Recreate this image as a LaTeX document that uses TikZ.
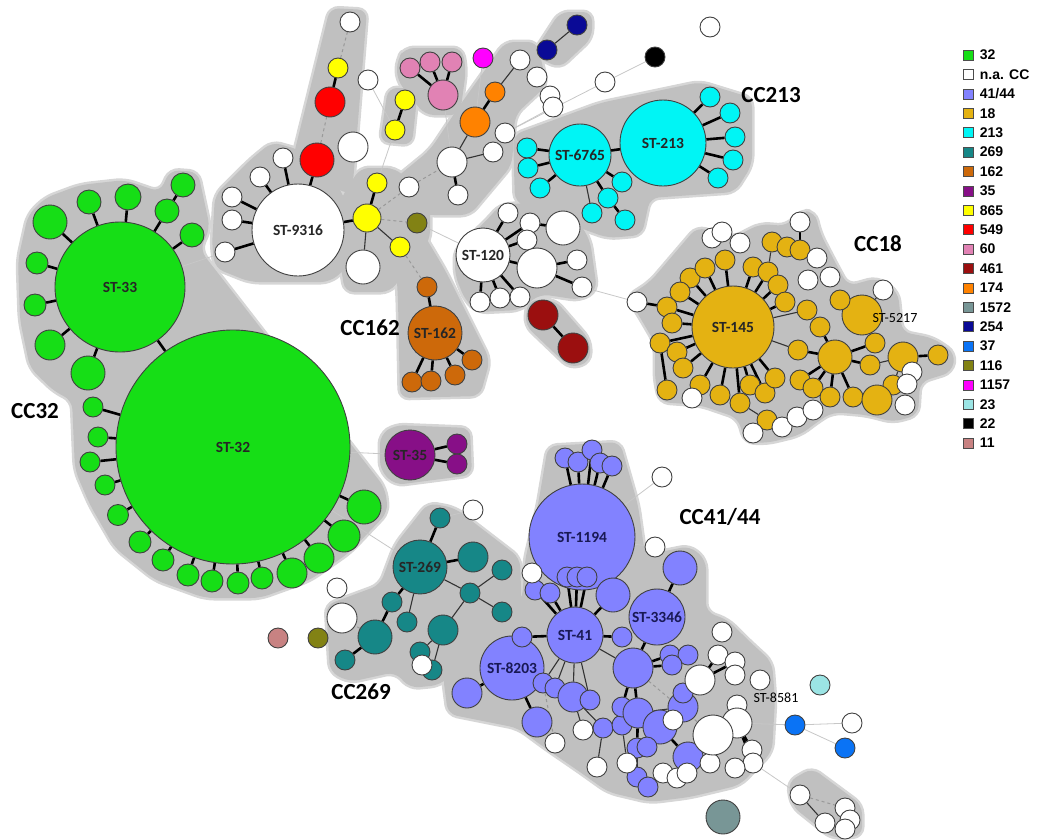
\documentclass[tikz,border=0pt]{standalone}
\usepackage{fontspec}
\setmainfont{Carlito}
\newfontfamily\legfont{Liberation Sans}
\pgfdeclarelayer{hulllayer}
\pgfdeclarelayer{edgelayer}
\pgfsetlayers{hulllayer,edgelayer,main}

\definecolor{c32}{RGB}{22,222,22}
\definecolor{cna}{RGB}{255,255,255}
\definecolor{c41}{RGB}{130,130,255}
\definecolor{c18}{RGB}{228,178,18}
\definecolor{c213}{RGB}{0,245,245}
\definecolor{c269}{RGB}{22,135,135}
\definecolor{c162}{RGB}{205,105,10}
\definecolor{c35}{RGB}{135,15,135}
\definecolor{c865}{RGB}{255,255,0}
\definecolor{c549}{RGB}{255,0,0}
\definecolor{c60}{RGB}{225,130,180}
\definecolor{c461}{RGB}{155,15,15}
\definecolor{c174}{RGB}{255,130,0}
\definecolor{c1572}{RGB}{120,150,150}
\definecolor{c254}{RGB}{10,10,150}
\definecolor{c37}{RGB}{10,115,245}
\definecolor{c116}{RGB}{130,130,20}
\definecolor{c1157}{RGB}{255,0,255}
\definecolor{c23}{RGB}{155,228,228}
\definecolor{c22}{RGB}{0,0,0}
\definecolor{c11}{RGB}{200,130,130}
\definecolor{hullgray}{RGB}{192,192,192}
\definecolor{hullrim}{RGB}{214,214,214}

% grey shading behind the complexes, drawn twice (rim, then fill)
\newcommand\hullshapes{%
  % CC32
  \path[hullpart] (28,215) -- (45,198) -- (80,185) -- (125,180) -- (160,192) -- (170,170) -- (198,172)
    -- (210,228) -- (200,250) -- (385,488) -- (388,512) -- (350,552) -- (310,580) -- (260,598) -- (205,598)
    -- (155,580) -- (115,548) -- (90,505) -- (75,470) -- (72,400) -- (55,392) -- (30,368) -- (20,320) -- (18,260) -- cycle;
  % ST-9316 and branches
  \path[hullpart] (212,245) -- (215,195) -- (250,160) -- (272,142) -- (300,150) -- (335,180) -- (350,210)
    -- (350,265) -- (330,282) -- (250,282) -- (215,268) -- cycle;
  \path[hullpart] (290,170) -- (330,8) -- (367,10) -- (352,195) -- cycle;
  \path[hullpart] (340,200) -- (360,168) -- (395,168) -- (430,200) -- (430,240) -- (390,292) -- (345,292) -- (338,250) -- cycle;
  \path[hullpart] (375,195) -- (430,150) -- (460,105) -- (505,42) -- (537,42) -- (547,85) -- (515,115)
    -- (512,165) -- (470,215) -- (425,215) -- cycle;
  \path[hullpart] (395,245) -- (420,228) -- (445,270) -- (470,320) -- (490,360) -- (480,396) -- (400,398) -- (398,300) -- cycle;
  \path[hullpart] (388,88) -- (418,88) -- (412,145) -- (380,142) -- cycle;
  \path[hullpart] (397,60) -- (405,48) -- (462,48) -- (466,70) -- (460,115) -- (425,115) -- (397,80) -- cycle;
  \path[hullpart] (532,55) -- (560,12) -- (592,12) -- (592,38) -- (560,68) -- cycle;
  % CC213
  \path[hullpart] (513,135) -- (600,103) -- (700,82) -- (752,98) -- (752,165) -- (735,192) -- (650,198)
    -- (642,235) -- (608,238) -- (580,228) -- (515,202) -- cycle;
  % ST-120
  \path[hullpart] (455,250) -- (487,220) -- (500,205) -- (540,202) -- (570,208) -- (590,240) -- (597,290)
    -- (580,300) -- (540,294) -- (520,310) -- (478,312) -- (465,300) -- (455,275) -- cycle;
  \path[hullpart] (528,300) -- (555,300) -- (590,340) -- (590,362) -- (570,368) -- (525,325) -- cycle;
  % ST-35
  \path[hullpart] (380,435) -- (395,425) -- (470,428) -- (472,475) -- (395,485) -- (380,470) -- cycle;
  % CC269
  \path[hullpart] (395,545) -- (428,503) -- (455,508) -- (520,558) -- (522,620) -- (492,628) -- (462,665)
    -- (440,685) -- (410,688) -- (395,672) -- (350,682) -- (330,672) -- (326,605) -- (380,585) -- cycle;
  % CC41/44 and ST-8581
  \path[hullpart] (538,505) -- (548,446) -- (620,442) -- (638,505) -- (645,555) -- (690,546) -- (706,560)
    -- (706,612) -- (728,620) -- (748,640) -- (772,662) -- (775,700) -- (772,752) -- (740,785) -- (690,797)
    -- (650,802) -- (608,792) -- (580,772) -- (545,748) -- (518,728) -- (448,714) -- (443,676) -- (480,640)
    -- (522,600) -- (525,560) -- cycle;
  \path[hullpart] (788,782) -- (812,768) -- (862,805) -- (862,836) -- (832,838) -- (792,806) -- cycle;
  % CC18
  \path[hullpart] (627,297) -- (650,282) -- (697,227) -- (733,238) -- (760,224) -- (787,226) -- (800,211)
    -- (815,212) -- (820,233) -- (835,262) -- (848,286) -- (877,278) -- (898,292) -- (902,332) -- (933,338)
    -- (955,353) -- (952,372) -- (920,382) -- (918,415) -- (893,422) -- (867,415) -- (833,412) -- (820,420)
    -- (800,435) -- (767,443) -- (745,442) -- (738,418) -- (700,405) -- (660,402) -- (655,380) -- (655,343)
    -- (638,314) -- cycle;
}

\begin{document}
\begin{tikzpicture}[x=1pt,y=-1pt]
 \tikzset{st/.style={circle, draw=black!75, line width=0.9pt, inner sep=0pt, fill=c#1},
   sz/.style={minimum size=#1pt},
   lab/.style={font=\bfseries\fontsize{15.5}{15.5}\selectfont, text=black!85},
   lab41/.style={font=\bfseries\fontsize{15.5}{15.5}\selectfont, text={rgb,255:red,25;green,25;blue,85}},
   bond/.style={line width=2.6pt, black},
   link/.style={line width=1.1pt, black!80},
   faint/.style={line width=0.8pt, black!22},
   dashlink/.style={line width=1pt, black!40, dashed},
   cclab/.style={font=\bfseries\fontsize{23}{23}\selectfont}}
 \useasboundingbox (0,0) rectangle (1043,839);

 \begin{pgfonlayer}{hulllayer}
  \tikzset{hullpart/.style={draw=hullrim, fill=hullrim, line width=5pt, rounded corners=9pt, line join=round}}
  \hullshapes
  \tikzset{hullpart/.style={fill=hullgray, rounded corners=9pt}}
  \hullshapes
 \end{pgfonlayer}

 %% CC32
 \node[st=32, sz=234, lab] (st32) at (233,447) {ST-32};
 \node[st=32, sz=130, lab] (st33) at (120,287) {ST-33};
 \foreach \x/\y/\d [count=\i] in {50/222/34, 89/202/24, 128/197/26, 167/211/24, 192/235/24, 37/263/22,
     35/305/22, 50/345/30, 88/373/34, 183/185/24}
   \node[st=32, sz=\d] (a\i) at (\x,\y) {};
 \foreach \x/\y/\d [count=\i] in {93/407/20, 98/437/20, 90/462/20, 105/485/20, 118/515/21, 140/542/22,
     163/560/22, 188/575/22, 212/581/22, 238/583/22, 262/578/22, 292/573/30, 319/558/30, 344/536/32, 364/507/34}
   \node[st=32, sz=\d] (b\i) at (\x,\y) {};

 %% ST-9316 and neighbours
 \node[st=na, sz=92, lab] (st9316) at (298,230) {ST-9316};
 \foreach \x/\y [count=\i] in {283/158, 260/177, 232/197, 232/220, 225/252}
   \node[st=na, sz=20] (w\i) at (\x,\y) {};
 \node[st=549, sz=34] (r1) at (317,160) {};
 \node[st=549, sz=30] (r2) at (330,102) {};
 \node[st=865, sz=20] (y1) at (338,68) {};
 \node[st=na, sz=20] (w6) at (350,22) {};
 \node[st=865, sz=28] (y2) at (367,218) {};
 \node[st=865, sz=20] (y3) at (377,183) {};
 \node[st=865, sz=20] (y4) at (400,247) {};
 \node[st=na, sz=34] (w7) at (363,267) {};
 \node[st=116, sz=20] (o1) at (417,223) {};
 \node[st=na, sz=20] (w8) at (409,187) {};
 \node[st=na, sz=30] (w9) at (452,162) {};
 \node[st=na, sz=20] (w10) at (458,195) {};
 \node[st=na, sz=20] (w11) at (493,152) {};
 \node[st=174, sz=30] (or1) at (475,122) {};
 \node[st=174, sz=20] (or2) at (495,92) {};
 \node[st=na, sz=20] (w12) at (520,60) {};
 \node[st=na, sz=20] (w13) at (537,77) {};
 \node[st=na, sz=20] (w14) at (505,133) {};
 \node[st=na, sz=20] (w15) at (550,96) {};
 \node[st=na, sz=20] (w16) at (553,107) {};
 \node[st=na, sz=20] (w17) at (605,82) {};
 \node[st=22, sz=20] (k1) at (655,57) {};
 \node[st=na, sz=20] (w18) at (710,27) {};
 \node[st=254, sz=20] (nv1) at (547,50) {};
 \node[st=254, sz=20] (nv2) at (577,25) {};
 \node[st=60, sz=20] (p1) at (410,68) {};
 \node[st=60, sz=20] (p2) at (430,62) {};
 \node[st=60, sz=20] (p3) at (452,62) {};
 \node[st=60, sz=30] (p4) at (443,95) {};
 \node[st=1157, sz=20] (m1) at (483,58) {};
 \node[st=865, sz=20] (y5) at (405,100) {};
 \node[st=865, sz=20] (y6) at (395,130) {};
 \node[st=na, sz=20] (w19) at (368,80) {};
 \node[st=na, sz=30] (w20) at (353,147) {};

 %% CC162
 \node[st=162, sz=54, lab] (st162) at (435,333) {ST-162};
 \node[st=162, sz=20] (br0) at (427,287) {};
 \foreach \x/\y [count=\i] in {412/382, 431/381, 455/375, 472/360}
   \node[st=162, sz=20] (br\i) at (\x,\y) {};

 %% CC213
 \node[st=213, sz=86, lab] (st213) at (663,143) {ST-213};
 \node[st=213, sz=62, lab] (st6765) at (580,155) {ST-6765};
 \foreach \x/\y [count=\i] in {710/97, 730/113, 735/137, 733/160, 718/178}
   \node[st=213, sz=20] (c\i) at (\x,\y) {};
 \foreach \x/\y [count=\i] in {527/148, 528/168, 540/188, 622/182, 608/198, 592/213, 625/220}
   \node[st=213, sz=20] (d\i) at (\x,\y) {};

 %% ST-120
 \node[st=na, sz=54, lab] (st120) at (483,255) {ST-120};
 \foreach \x/\y/\d [count=\i] in {508/213/20, 530/223/20, 527/240/20, 563/228/34, 537/268/40, 577/260/20,
     582/287/20, 480/302/20, 500/298/20, 520/297/20}
   \node[st=na, sz=\d] (e\i) at (\x,\y) {};
 \node[st=461, sz=30] (dr1) at (543,315) {};
 \node[st=461, sz=30] (dr2) at (573,348) {};

 %% ST-35
 \node[st=35, sz=50, lab] (st35) at (410,455) {ST-35};
 \node[st=35, sz=20] (pu1) at (457,444) {};
 \node[st=35, sz=20] (pu2) at (457,464) {};

 %% CC269
 \node[st=269, sz=54, lab] (st269) at (420,567) {ST-269};
 \foreach \x/\y/\d [count=\i] in {440/518/20, 473/557/30, 470/593/20, 502/570/20, 502/612/20, 392/602/20,
     407/622/20, 443/630/30, 375/637/34, 345/660/20, 420/652/20, 432/670/20}
   \node[st=269, sz=\d] (t\i) at (\x,\y) {};
 \node[st=na, sz=20] (wt1) at (422,665) {};
 \node[st=na, sz=20] (wt2) at (337,588) {};
 \node[st=na, sz=30] (wt3) at (342,618) {};
 \node[st=na, sz=20] (wt4) at (473,510) {};
 \node[st=116, sz=20] (o2) at (318,638) {};
 \node[st=11, sz=20] (q1) at (278,638) {};

 %% CC41/44
 \node[st=41, sz=106, lab41] (st1194) at (582,537) {ST-1194};
 \foreach \x/\y [count=\i] in {565/458, 578/462, 592/450, 600/463, 612/466}
   \node[st=41, sz=20] (u\i) at (\x,\y) {};
 \node[st=41, sz=56, lab41] (st41) at (575,635) {ST-41};
 \node[st=41, sz=56, lab41] (st3346) at (657,617) {ST-3346};
 \node[st=41, sz=64, lab41] (st8203) at (512,668) {ST-8203};
 \foreach \x/\y/\d [count=\i from 6] in {567/577/20, 577/577/20, 587/577/20, 535/590/20, 550/593/20,
     613/595/34, 680/568/34, 467/693/30, 522/637/20, 622/637/20, 633/668/40, 670/655/20, 688/655/20,
     672/665/20, 543/683/20, 555/688/20, 573/697/30, 590/700/20, 537/722/30, 603/728/20, 622/725/20,
     622/707/20, 638/713/30, 660/727/34, 683/707/30, 683/693/20, 637/748/20, 647/747/20, 637/777/20,
     648/787/20, 688/757/30}
   \node[st=41, sz=\d] (u\i) at (\x,\y) {};
 \foreach \x/\y [count=\i] in {583/730, 555/743, 597/767, 627/763, 663/773, 677/778, 687/773, 673/720, 710/763}
   \node[st=na, sz=20] (v\i) at (\x,\y) {};
 \node[st=na, sz=20] (wl1) at (662,477) {};
 \node[st=na, sz=20] (wl2) at (655,547) {};
 \node[st=na, sz=20] (wl3) at (532,573) {};

 %% ST-8581
 \foreach \x/\y/\d [count=\i] in {700/680/30, 722/632/20, 718/655/20, 735/662/20, 735/675/20, 760/680/20,
     737/705/20, 737/723/30, 713/735/40, 752/750/20, 753/763/20, 735/768/20}
   \node[st=na, sz=\d] (x\i) at (\x,\y) {};
 \node[font=\fontsize{14}{14}\selectfont] (lab8581) at (776,698) {ST-8581};
 \node[st=23, sz=20] (pc1) at (820,685) {};
 \node[st=37, sz=20] (bl1) at (795,725) {};
 \node[st=37, sz=20] (bl2) at (845,748) {};
 \node[st=na, sz=20] (bw1) at (852,723) {};
 \node[st=1572, sz=34] (gt1) at (723,817) {};
 \foreach \x/\y [count=\i] in {800/795, 825/823, 845/808, 850/820, 845/829}
   \node[st=na, sz=20] (z\i) at (\x,\y) {};

 %% CC18
 \node[st=18, sz=82, lab] (st145) at (733,327) {ST-145};
 \node[st=18, sz=40] (st5217) at (862,315) {};
 \node[st=18, sz=34] (hub2) at (835,357) {};
 \foreach \x/\y [count=\i] in {690/278, 680/292, 667/307, 672/323, 660/343, 677/352, 683/368, 700/385,
     720/395, 740/403, 750/385, 765/393, 775/378, 725/260, 753/267, 768/272, 778/285, 785/302, 705/268}
   \node[st=18, sz=20] (g\i) at (\x,\y) {};
 \foreach \x/\y/\d [count=\i] in {807/310/20, 820/327/20, 798/350/20, 800/380/20, 813/388/20, 830/397/20,
     853/397/20, 870/365/20, 875/343/20, 840/300/20, 903/357/30, 938/355/20, 893/385/20, 877/400/30,
     772/242/20, 787/247/20, 800/250/20, 667/390/20, 767/420/20}
   \node[st=18, sz=\d] (h\i) at (\x,\y) {};
 \foreach \x/\y [count=\i] in {800/222, 712/238, 722/232, 740/243, 817/258, 808/280, 830/277, 883/290,
     637/302, 692/398, 753/433, 782/427, 797/417, 813/410, 912/372, 907/384, 905/405}
   \node[st=na, sz=20] (wc\i) at (\x,\y) {};
 \node[font=\fontsize{14}{14}\selectfont] (lab5217) at (895,318) {ST-5217};

 %% connectors
 \begin{pgfonlayer}{edgelayer}
  \foreach \i in {1,...,9} \draw[bond] (st33) -- (a\i);
  \draw[bond] (a4) -- (a10);
  \foreach \i in {1,...,15} \draw[bond] (st32) -- (b\i);
  \draw[bond] (st33) -- (st32);
  \draw[faint] (st33) -- (w5);
  \draw[faint] (st32) -- (st35);
  \draw[faint] (st32) -- (st269);
  % ST-9316
  \foreach \i in {1,...,5} \draw[bond] (st9316) -- (w\i);
  \draw[bond] (st9316) -- (r1);
  \draw[dashlink] (r1) -- (r2);
  \draw[bond] (r2) -- (y1);
  \draw[dashlink] (y1) -- (w6);
  \draw[bond] (st9316) -- (y2);
  \draw[bond] (y2) -- (y3);
  \draw[link] (y2) -- (y4);
  \draw[link] (y2) -- (w7);
  \draw[dashlink] (y2) -- (o1);
  \draw[dashlink] (y2) -- (w8);
  \draw[dashlink] (w8) -- (w9);
  \draw[bond] (w9) -- (w10);
  \draw[link] (w9) -- (w11);
  \draw[link] (w9) -- (or1);
  \draw[bond] (or1) -- (or2);
  \draw[link] (or2) -- (w12);
  \draw[link] (nv1) -- (nv2);
  \draw[faint] (w14) -- (w16);
  \draw[faint] (w14) -- (w17);
  \draw[faint] (w17) -- (k1);
  \draw[faint] (w14) -- (d1);
  \foreach \i in {1,2,3} \draw[bond] (p4) -- (p\i);
  \draw[faint] (p4) -- (w9);
  \draw[faint] (m1) -- (or1);
  \draw[bond] (y5) -- (y6);
  \draw[faint] (y6) -- (y3);
  \draw[faint] (w19) -- (y6);
  \draw[faint] (o1) -- (st120);
  % CC162
  \draw[dashlink] (y4) -- (br0);
  \draw[bond] (st162) -- (br0);
  \foreach \i in {1,...,4} \draw[bond] (st162) -- (br\i);
  % CC213
  \draw[bond] (st6765) -- (st213);
  \foreach \i in {1,...,5} \draw[bond] (st213) -- (c\i);
  \foreach \i in {1,...,5} \draw[bond] (st6765) -- (d\i);
  \draw[link] (st6765) -- (d6);
  \draw[bond] (d5) -- (d7);
  % ST-120
  \foreach \i in {1,2,3,5,8,9,10} \draw[bond] (st120) -- (e\i);
  \draw[bond] (e2) -- (e4);
  \draw[bond] (e5) -- (e6);
  \draw[bond] (e5) -- (e7);
  \draw[faint] (e7) -- (wc9);
  \draw[bond] (dr1) -- (dr2);
  % ST-35
  \draw[bond] (st35) -- (pu1);
  \draw[bond] (st35) -- (pu2);
  % CC269
  \draw[bond] (st269) -- (t1);
  \draw[bond] (st269) -- (t2);
  \draw[link] (st269) -- (t3);
  \draw[link] (t3) -- (t4);
  \draw[link] (t3) -- (t5);
  \draw[bond] (st269) -- (t6);
  \draw[link] (st269) -- (t7);
  \draw[bond] (t6) -- (t9);
  \draw[bond] (t9) -- (t10);
  \draw[link] (t3) -- (t8);
  \draw[link] (t8) -- (t11);
  \draw[link] (t8) -- (t12);
  \draw[dashlink] (t9) -- (wt3);
  \draw[faint] (t1) -- (wt4);
  % CC41/44
  \foreach \i in {1,...,5} \draw[bond] (st1194) -- (u\i);
  \foreach \i in {6,...,10} \draw[bond] (st41) -- (u\i);
  \draw[bond] (st41) -- (u11);
  \draw[bond] (st3346) -- (u12);
  \draw[bond] (st8203) -- (u13);
  \draw[bond] (st41) -- (u14);
  \draw[bond] (st8203) -- (u14);
  \draw[bond] (st41) -- (u15);
  \draw[link] (st41) -- (u16);
  \draw[bond] (st3346) -- (u16);
  \draw[bond] (u16) -- (u17);
  \draw[bond] (u16) -- (u19);
  \foreach \i in {20,...,23} \draw[link] (st41) -- (u\i);
  \draw[bond] (st8203) -- (u24);
  \draw[link] (u22) -- (u25);
  \draw[bond] (u16) -- (u27);
  \draw[bond] (u16) -- (u28);
  \draw[bond] (u28) -- (u32);
  \draw[link] (u32) -- (u34);
  \draw[bond] (u29) -- (u36);
  \draw[link] (u28) -- (u30);
  \draw[link] (u22) -- (v1);
  \draw[dashlink] (u20) -- (v2);
  \draw[link] (u25) -- (v3);
  \draw[link] (u26) -- (v4);
  \draw[faint] (st1194) -- (wl1);
  \draw[faint] (st1194) -- (wl2);
  % ST-8581
  \draw[bond] (x1) -- (x3);
  \draw[bond] (x1) -- (x4);
  \draw[link] (x1) -- (u30);
  \draw[bond] (x8) -- (x10);
  \draw[bond] (x8) -- (x11);
  \draw[link] (x9) -- (u36);
  \draw[dashlink] (u16) -- (x9);
  \draw[faint] (x8) -- (bl1);
  \draw[faint] (bl1) -- (bw1);
  \draw[faint] (bl1) -- (bl2);
  \draw[faint] (x11) -- (z1);
  \draw[link] (z1) -- (z2);
  \draw[dashlink] (z1) -- (z3);
  % CC18
  \foreach \i in {1,...,19} \draw[bond] (st145) -- (g\i);
  \foreach \i in {2,...,9} \draw[bond] (hub2) -- (h\i);
  \draw[bond] (st5217) -- (h10);
  \draw[bond] (st5217) -- (h9);
  \draw[link] (st145) -- (h3);
  \draw[bond] (h11) -- (h12);
  \draw[link] (h8) -- (h11);
  \draw[link] (h11) -- (h13);
  \draw[link] (h7) -- (h14);
  \draw[link] (g16) -- (h15);
  \draw[bond] (h15) -- (h16);
  \draw[bond] (h16) -- (h17);
  \draw[bond] (g5) -- (h18);
  \draw[link] (g10) -- (h19);
  \draw[bond] (wc1) -- (h17);
  \draw[bond] (wc9) -- (g3);
  \draw[link] (st5217) -- (wc8);
  \draw[link] (h1) -- (st145);
 \end{pgfonlayer}

 %% complex labels
 \node[cclab] (cc32) at (35,411) {CC32};
 \node[cclab] (cc162) at (370,328) {CC162};
 \node[cclab] (cc213) at (771,95) {CC213};
 \node[cclab] (cc18) at (878,244) {CC18};
 \node[cclab] (cc41) at (720,517) {CC41/44};
 \node[cclab] (cc269) at (361,692) {CC269};

 %% legend
 \foreach \c/\t [count=\i] in {32/32, na/n.a. CC, 41/{41/44}, 18/18, 213/213, 269/269, 162/162, 35/35,
     865/865, 549/549, 60/60, 461/461, 174/174, 1572/1572, 254/254, 37/37, 116/116, 1157/1157, 23/23, 22/22, 11/11}
 {
   \node[draw=black!70, line width=0.6pt, fill=c\c, minimum size=10pt, inner sep=0pt] (key\i) at (968,{55+19.4*(\i-1)}) {};
   \node[anchor=west, inner sep=0pt, font=\legfont\bfseries\fontsize{14}{14}\selectfont] (keytext\i) at ([xshift=17pt]key\i.west) {\t};
 }
\end{tikzpicture}
\end{document}
